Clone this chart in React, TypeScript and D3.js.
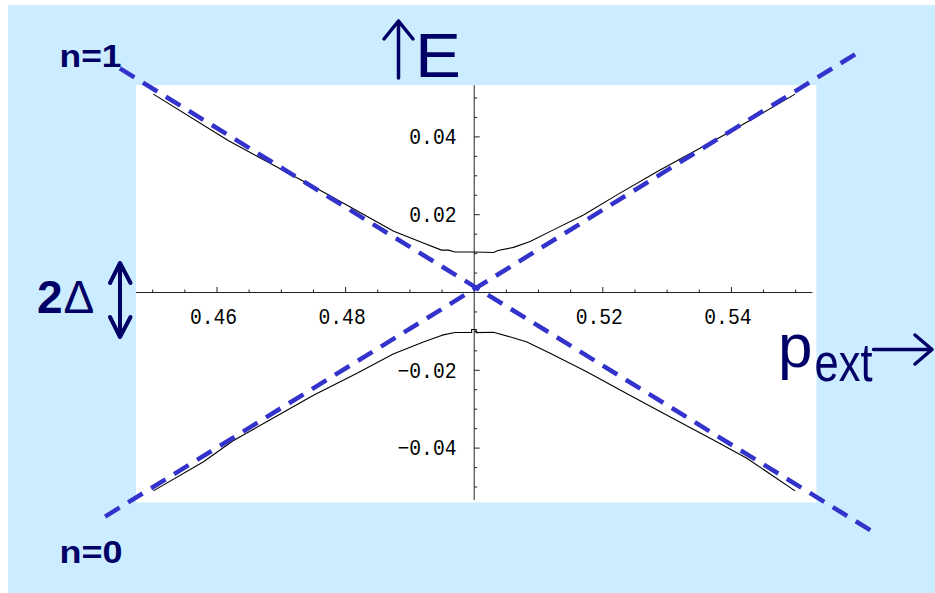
import React from "react";
import * as d3 from "d3";

const W = 935;
const H = 593;

// Upper (n=1 side) adiabatic level: external momentum and energy
const upperP = [0.4501, 0.4618, 0.4771, 0.4874, 0.4918, 0.4949, 0.496, 0.497, 0.5, 0.503, 0.5037, 0.5061, 0.5087, 0.5123, 0.517, 0.5222, 0.5289, 0.5403, 0.5499];
const upperE = [0.051, 0.039, 0.0253, 0.0158, 0.0129, 0.0109, 0.0109, 0.0104, 0.0104, 0.0103, 0.0108, 0.0116, 0.0131, 0.0161, 0.0199, 0.0251, 0.0315, 0.0418, 0.051];

// Lower (n=0 side) adiabatic level
const lowerP = [0.4501, 0.4579, 0.4625, 0.4682, 0.475, 0.4817, 0.4874, 0.4921, 0.4947, 0.4952, 0.497, 0.4996, 0.4996, 0.5003, 0.5003, 0.503, 0.5058, 0.5082, 0.5118, 0.5175, 0.5232, 0.5289, 0.5372, 0.5424, 0.5499];
const lowerE = [-0.051, -0.0435, -0.0381, -0.0328, -0.0264, -0.0208, -0.0158, -0.0127, -0.0112, -0.0109, -0.0103, -0.0103, -0.0095, -0.0095, -0.0103, -0.0102, -0.0115, -0.0127, -0.0156, -0.0204, -0.0255, -0.0306, -0.0379, -0.0426, -0.051];

// Diabatic (crossing) levels, drawn as dashed straight lines
const n1P = [0.4449, 0.5621];
const n1E = [0.0576, -0.0616];
const n0P = [0.4426, 0.5595];
const n0E = [-0.0576, 0.0615];

// Axes
const xRange = [0.4474, 0.5526];
const yRange = [-0.0533, 0.0533];
const xTicks = [0.46, 0.48, 0.52, 0.54];
const xTickLabels = ["0.46", "0.48", "0.52", "0.54"];
const yTicks = [-0.04, -0.02, 0.02, 0.04];
const yTickLabels = ["\u22120.04", "\u22120.02", "0.02", "0.04"];

const NAVY = "#000066";
const DASH = "#3333CC";
const BG = "#CCECFF";
const SANS = "'Liberation Sans', Arial, sans-serif";
const MONO = "'Liberation Mono', 'Courier New', monospace";

export default function App() {
  const x = d3.scaleLinear().domain([0.45, 0.55]).range([474.2 - 321.5, 474.2 + 321.5]);
  const y = d3.scaleLinear().domain([-0.05, 0.05]).range([292.5 + 194.5, 292.5 - 194.5]);

  const line = d3
    .line<number>()
    .x((d) => d)
    .y((d) => d);

  const path = (ps: number[], es: number[]) =>
    d3
      .line<[number, number]>()
      .x((d) => x(d[0]))
      .y((d) => y(d[1]))(ps.map((p, i) => [p, es[i]] as [number, number])) || "";

  const minorX = x.ticks(20);
  const minorY = y.ticks(20);
  const isMajor = (v: number, arr: number[]) => arr.some((t) => Math.abs(t - v) < 1e-9);

  const x0 = x(0.5);
  const y0 = y(0);
  const left = x(xRange[0]);
  const right = x(xRange[1]);
  const top = y(yRange[1]);
  const bottom = y(yRange[0]);

  void line;

  return (
    <div style={{ position: "absolute", left: 0, top: 0 }}>
      <svg width={W} height={H} style={{ display: "block" }}>
        <rect x={0} y={0} width={W} height={H} fill="#ffffff" />
        <rect x={8} y={5} width={W - 8} height={H - 5} fill={BG} />
        {/* plot panel */}
        <rect x={left} y={top} width={right - left + 4} height={bottom - top + 2.7} fill="#ffffff" />

        {/* axes */}
        <g stroke="#222" strokeWidth={1} fill="none">
          <line x1={left} x2={right} y1={y0} y2={y0} />
          <line x1={x0} x2={x0} y1={top} y2={bottom} />
          {minorX
            .filter((v) => Math.abs(v - 0.5) > 1e-9)
            .map((v) => (
              <line key={"xt" + v} x1={x(v)} x2={x(v)} y1={y0} y2={y0 - (isMajor(v, xTicks) ? 5.5 : 3)} />
            ))}
          {minorY
            .filter((v) => Math.abs(v) > 1e-9)
            .map((v) => (
              <line key={"yt" + v} x1={x0} x2={x0 + (isMajor(v, yTicks) ? 5.5 : 3)} y1={y(v)} y2={y(v)} />
            ))}
        </g>
        <g fontFamily={MONO} fontSize={22} fill="#000">
          {xTicks.map((v, i) => (
            <text
              key={"xl" + v}
              x={x(v) - 3.5}
              y={324.3}
              textAnchor="middle"
              textLength={xTickLabels[i].length * 11.8}
              lengthAdjust="spacingAndGlyphs"
            >
              {xTickLabels[i]}
            </text>
          ))}
          {yTicks.map((v, i) => (
            <text
              key={"yl" + v}
              x={456.5}
              y={y(v) + 7.2}
              textAnchor="end"
              textLength={yTickLabels[i].length * 11.8}
              lengthAdjust="spacingAndGlyphs"
            >
              {yTickLabels[i]}
            </text>
          ))}
        </g>

        {/* adiabatic levels */}
        <path d={path(upperP, upperE)} fill="none" stroke="#000" strokeWidth={1.1} />
        <path d={path(lowerP, lowerE)} fill="none" stroke="#000" strokeWidth={1.1} />

        {/* diabatic levels */}
        <path d={path(n1P, n1E)} fill="none" stroke={DASH} strokeWidth={4.5} strokeDasharray="17 10" />
        <path d={path(n0P, n0E)} fill="none" stroke={DASH} strokeWidth={4.5} strokeDasharray="17 10" />

        {/* annotations */}
        <g fill={NAVY} fontFamily={SANS}>
          <text x={59.5} y={66.7} fontSize={32} fontWeight="bold" textLength={62} lengthAdjust="spacingAndGlyphs">
            n=1
          </text>
          <text x={59.5} y={562.7} fontSize={32} fontWeight="bold" textLength={63} lengthAdjust="spacingAndGlyphs">
            n=0
          </text>
          <text x={415} y={77.3} fontSize={63} textLength={46} lengthAdjust="spacingAndGlyphs">
            E
          </text>
          <text x={37} y={313.3} fontSize={46}>
            <tspan fontWeight="bold">2</tspan>
            <tspan x={63.5}>Δ</tspan>
          </text>
          <text x={778} y={366.5} fontSize={62}>
            p
          </text>
          <text x={814.5} y={381} fontSize={54} textLength={58} lengthAdjust="spacingAndGlyphs">
            ext
          </text>
        </g>
        <g stroke={NAVY} fill="none" strokeLinecap="round" strokeLinejoin="round">
          {/* up arrow next to E */}
          <path d="M398.5,78 V21 M384,39 L398.5,21 L413,39" strokeWidth={3.5} />
          {/* double arrow for the gap */}
          <path d="M120,263 V337 M110,283 L120,263 L130.5,283 M110,317 L120,337 L130.5,317" strokeWidth={4} />
          {/* right arrow after p_ext */}
          <path d="M873.5,349.5 H932 M915,335 L932,349.5 L915,364" strokeWidth={3.5} />
        </g>
      </svg>
    </div>
  );
}
